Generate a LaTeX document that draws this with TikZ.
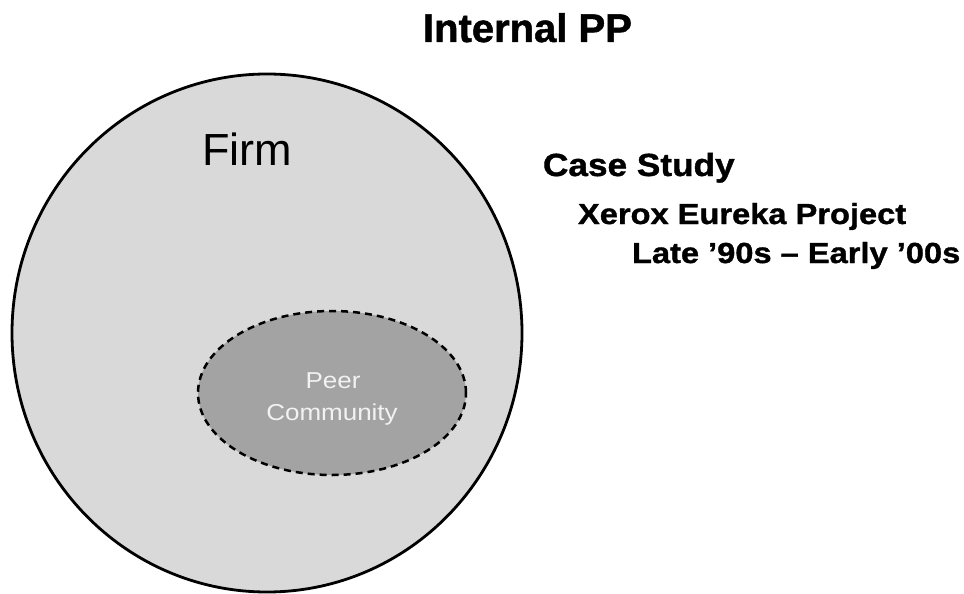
\documentclass[tikz,border=0pt]{standalone}
\usepackage{fontspec}
\setmainfont{Liberation Sans}
\newfontfamily\heavy[BoldFeatures={FakeBold=1.2}]{Liberation Sans}
\newfontfamily\wideb[FakeStretch=1.1, BoldFeatures={FakeBold=1.2}]{Liberation Sans}
\newfontfamily\widec[FakeStretch=1.125, BoldFeatures={FakeBold=1.2}]{Liberation Sans}
\newfontfamily\widepeer[FakeStretch=1.13]{Liberation Sans}
\definecolor{firmgray}{HTML}{D9D9D9}
\definecolor{peergray}{HTML}{A3A3A3}
\definecolor{peertext}{HTML}{F2F2F2}
\tikzset{
  lbl/.style={inner sep=0pt, outer sep=0pt, anchor=base west},
  firmshape/.style={ellipse, draw=black, line width=2.8pt, fill=firmgray, inner sep=0pt},
  peershape/.style={ellipse, draw=black, line width=2.5pt, dash pattern=on 7pt off 5pt, fill=peergray, inner sep=0pt},
}
\usetikzlibrary{shapes.geometric}
\begin{document}
\begin{tikzpicture}[x=1pt,y=-1pt]
\useasboundingbox (0,0) rectangle (964,594);
% outer firm ellipse
\node[firmshape, minimum width=510pt, minimum height=518pt] (firm) at (267,333) {};
% inner peer community ellipse
\node[peershape, minimum width=268pt, minimum height=164pt] (peer) at (332,393) {};
% texts
\node[lbl] (title) at (423,42) {\heavy\fontsize{40}{40}\selectfont\bfseries Internal PP};
\node[lbl] (firmlbl) at (202,165) {\fontsize{45}{45}\selectfont Firm};
\node[lbl] (case) at (543,176) {\wideb\fontsize{32}{32}\selectfont\bfseries Case Study};
\node[lbl] (xerox) at (578,224) {\widec\fontsize{29}{29}\selectfont\bfseries Xerox Eureka Project};
\node[lbl] (late) at (632,263) {\widec\fontsize{29}{29}\selectfont\bfseries Late ’90s – Early ’00s};
\node[inner sep=0pt, anchor=base, text=peertext] (peerl1) at (333,388) {\widepeer\fontsize{23}{23}\selectfont Peer};
\node[inner sep=0pt, anchor=base, text=peertext] (peerl2) at (332,420) {\widepeer\fontsize{23}{23}\selectfont Community};
\end{tikzpicture}
\end{document}
